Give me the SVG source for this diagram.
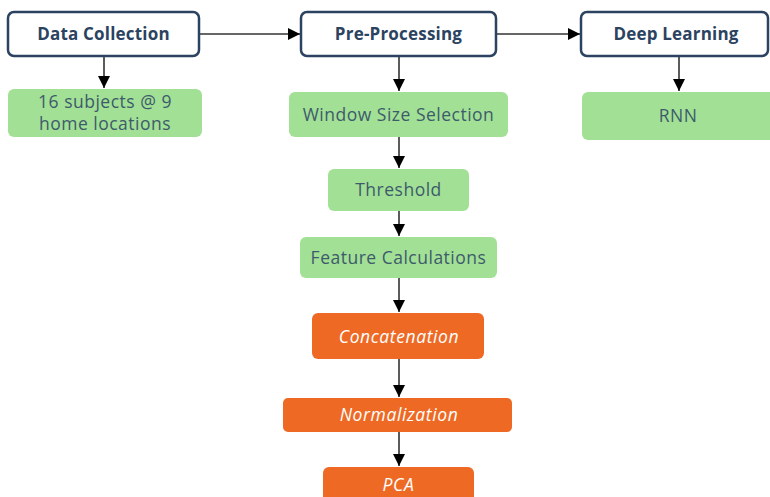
<svg xmlns="http://www.w3.org/2000/svg" width="770" height="497" viewBox="0 0 770 497">
  <style>
    .head rect { fill: #ffffff; stroke: #2b4360; stroke-width: 2.5; }
    .head text { font-family: "Open Sans", Lato, sans-serif; font-weight: bold; font-size: 17px; letter-spacing: 0.2px; fill: #2b4360; text-anchor: middle; }
    .step rect { fill: #a2e095; }
    .step text { font-family: "Open Sans", Lato, sans-serif; font-size: 17.5px; letter-spacing: 0.5px; fill: #3d5b6b; text-anchor: middle; }
    .proc rect { fill: #ee6a24; }
    .proc text { font-family: "Open Sans", Lato, sans-serif; font-style: italic; font-size: 17.5px; letter-spacing: 0.6px; fill: #ffffff; text-anchor: middle; }
    .conn line { stroke: #333333; stroke-width: 1.6; marker-end: url(#arrow); }
  </style>
  <defs>
    <marker id="arrow" viewBox="0 0 10 10" refX="10" refY="5" markerUnits="userSpaceOnUse" markerWidth="12" markerHeight="12" orient="auto">
      <path d="M0,0 L10,5 L0,10 z" fill="#000000"/>
    </marker>
  </defs>
  <rect width="770" height="497" fill="#ffffff"/>

  <!-- connectors -->
  <g id="connectors" class="conn">
    <line x1="199" y1="34" x2="300" y2="34"/>
    <line x1="497" y1="34" x2="580" y2="34"/>
    <line x1="104" y1="57" x2="104" y2="88"/>
    <line x1="399" y1="57" x2="399" y2="91"/>
    <line x1="679" y1="57" x2="679" y2="91"/>
    <line x1="399" y1="137" x2="399" y2="168"/>
    <line x1="399" y1="211" x2="399" y2="236"/>
    <line x1="399" y1="278" x2="399" y2="312"/>
    <line x1="399" y1="359" x2="399" y2="397"/>
    <line x1="399" y1="432" x2="399" y2="466"/>
  </g>

  <!-- stage headers -->
  <g id="data-collection" class="head">
    <rect x="8" y="12" width="191" height="44" rx="6"/>
    <text x="103.5" y="40">Data Collection</text>
  </g>
  <g id="pre-processing" class="head">
    <rect x="301" y="12" width="195" height="44" rx="6"/>
    <text x="398.5" y="40">Pre-Processing</text>
  </g>
  <g id="deep-learning" class="head">
    <rect x="581" y="12" width="187" height="44" rx="6"/>
    <text x="676" y="40">Deep Learning</text>
  </g>

  <!-- green steps -->
  <g id="subjects" class="step">
    <rect x="8" y="89" width="194" height="48" rx="6"/>
    <text x="105" y="108">16 subjects @ 9</text>
    <text x="105" y="130">home locations</text>
  </g>
  <g id="window-size" class="step">
    <rect x="289" y="92" width="219" height="45" rx="6"/>
    <text x="398.5" y="121">Window Size Selection</text>
  </g>
  <g id="rnn" class="step">
    <rect x="582" y="92" width="196" height="48" rx="6"/>
    <text x="678" y="122">RNN</text>
  </g>
  <g id="threshold" class="step">
    <rect x="328" y="169" width="141" height="42" rx="6"/>
    <text x="398.5" y="196">Threshold</text>
  </g>
  <g id="feature-calculations" class="step">
    <rect x="300" y="237" width="197" height="41" rx="6"/>
    <text x="398.5" y="264">Feature Calculations</text>
  </g>

  <!-- orange steps -->
  <g id="concatenation" class="proc">
    <rect x="312" y="313" width="172" height="46" rx="6"/>
    <text x="399" y="343">Concatenation</text>
  </g>
  <g id="normalization" class="proc">
    <rect x="283" y="398" width="229" height="34" rx="5"/>
    <text x="399" y="421">Normalization</text>
  </g>
  <g id="pca" class="proc">
    <rect x="323" y="467" width="151" height="40" rx="6"/>
    <text x="398.5" y="491">PCA</text>
  </g>
</svg>
